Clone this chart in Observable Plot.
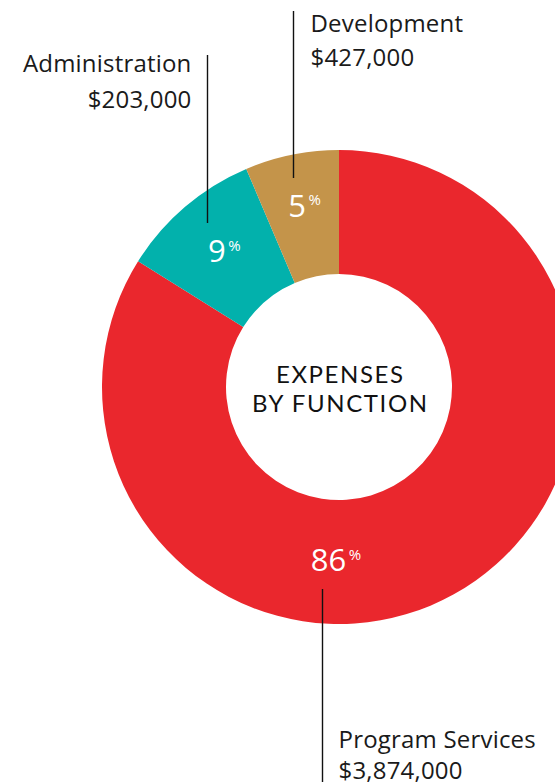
<!DOCTYPE html>
<html><head><meta charset="utf-8">
<script src="https://cdn.jsdelivr.net/npm/d3@7"></script>
<script src="https://cdn.jsdelivr.net/npm/@observablehq/plot@0.6"></script>
<style>body{margin:0;background:#fff}</style>
</head><body><div id="chart"></div><script>
// ---- data ----
const categories = ["Program Services", "Administration", "Development"];
const sliceShares = [83.9, 9.7, 6.4];          // slice sizes as drawn
const percentLabels = ["86", "9", "5"];
const amountLabels = ["$3,874,000", "$203,000", "$427,000"];
const sliceColors = ["#EA272D", "#02B1AC", "#C4944A"];
const centerTitle = "EXPENSES\nBY FUNCTION";

// ---- layout ----
const W = 555, H = 782;
const CX = 339, CY = 387, RO = 237, RI = 113;
const pctAngle = [180.6, -40, -10.5];   // degrees clockwise from 12 o'clock
const pctRadius = [174, 177, 184];
const leaders = [
  {x: 322, y1: 589, y2: 782},
  {x: 207, y1: 55, y2: 223},
  {x: 293, y1: 11, y2: 178}
];
const catText = [
  {x: 338, y: 740, anchor: "start"},
  {x: 191, y: 64, anchor: "end"},
  {x: 310, y: 24, anchor: "start"}
];
const amtText = [
  {x: 338, y: 771, anchor: "start"},
  {x: 191, y: 100, anchor: "end"},
  {x: 310, y: 58, anchor: "start"}
];

const rows = categories.map((c, i) => ({category: c, share: sliceShares[i], pct: percentLabels[i], amount: amountLabels[i], i}));
const arcs = d3.pie().sort(null).value(d => d.share)(rows);

const rad = a => a * Math.PI / 180;
const pctPos = rows.map(d => {
  const cx = CX + pctRadius[d.i] * Math.sin(rad(pctAngle[d.i]));
  const cy = CY - pctRadius[d.i] * Math.cos(rad(pctAngle[d.i]));
  const numRight = cx + (d.pct.length * 17 - 17) / 2;
  return {...d, numX: numRight, sigX: numRight + 2.5, py: cy};
});

const donut = Plot.dot(rows, {
  x: () => CX, y: () => CY, fill: "category",
  render(index, scales, values) {
    const ro = scales.x(CX + RO) - scales.x(CX);
    const ri = scales.x(CX + RI) - scales.x(CX);
    const arc = d3.arc().innerRadius(ri).outerRadius(ro);
    const g = d3.create("svg:g");
    g.selectAll("path").data(index).join("path")
      .attr("transform", i => `translate(${values.x[i]},${values.y[i]})`)
      .attr("d", i => arc(arcs[i]))
      .attr("fill", i => values.fill[i]);
    return g.node();
  }
});

const labelFont = "Open Sans";
const LS = 24;
const textMarks = [];
for (const anchor of ["start", "end"]) {
  const sub = rows.filter(d => catText[d.i].anchor === anchor);
  textMarks.push(
    Plot.text(sub, {x: d => catText[d.i].x, y: d => catText[d.i].y, text: "category", textAnchor: anchor,
      fill: "#1a1a1a", fontSize: LS, fontFamily: labelFont, lineAnchor: "middle"}),
    Plot.text(sub, {x: d => amtText[d.i].x, y: d => amtText[d.i].y, text: "amount", textAnchor: anchor,
      fill: "#1a1a1a", fontSize: LS, fontFamily: labelFont, lineAnchor: "middle"})
  );
}

const chart = Plot.plot({
  width: W, height: H, margin: 0,
  x: {domain: [0, W], range: [0, W], axis: null},
  y: {domain: [0, H], range: [0, H], axis: null},
  color: {domain: categories, range: sliceColors},
  marks: [
    donut,
    Plot.ruleX(rows, {x: d => leaders[d.i].x, y1: d => leaders[d.i].y1, y2: d => leaders[d.i].y2, stroke: "#111", strokeWidth: 1.4}),
    Plot.text(pctPos, {x: "numX", y: "py", text: "pct", textAnchor: "end",
      fill: "white", fontSize: 31, fontFamily: labelFont, fontWeight: 400, lineAnchor: "middle"}),
    Plot.text(pctPos, {x: "sigX", y: "py", text: () => "%", dy: -6, textAnchor: "start",
      fill: "white", fontSize: 15, fontFamily: labelFont, fontWeight: 400, lineAnchor: "middle"}),
    ...textMarks,
    Plot.text([centerTitle], {x: () => CX, y: () => CY + 1, dx: 0.8, text: d => d, fontSize: 24, fontFamily: "Lato",
      fill: "#111", lineHeight: 1.2, lineAnchor: "middle"})
  ]
});
const labelSet = new Set([...categories, ...amountLabels]);
d3.select(chart).selectAll("text").each(function () {
  const t = this.textContent;
  if (t.includes("EXPENSES")) this.style.letterSpacing = "1.6px";
  else if (labelSet.has(t)) this.style.letterSpacing = "0.2px";
});
document.getElementById("chart").append(chart);
</script></body></html>
